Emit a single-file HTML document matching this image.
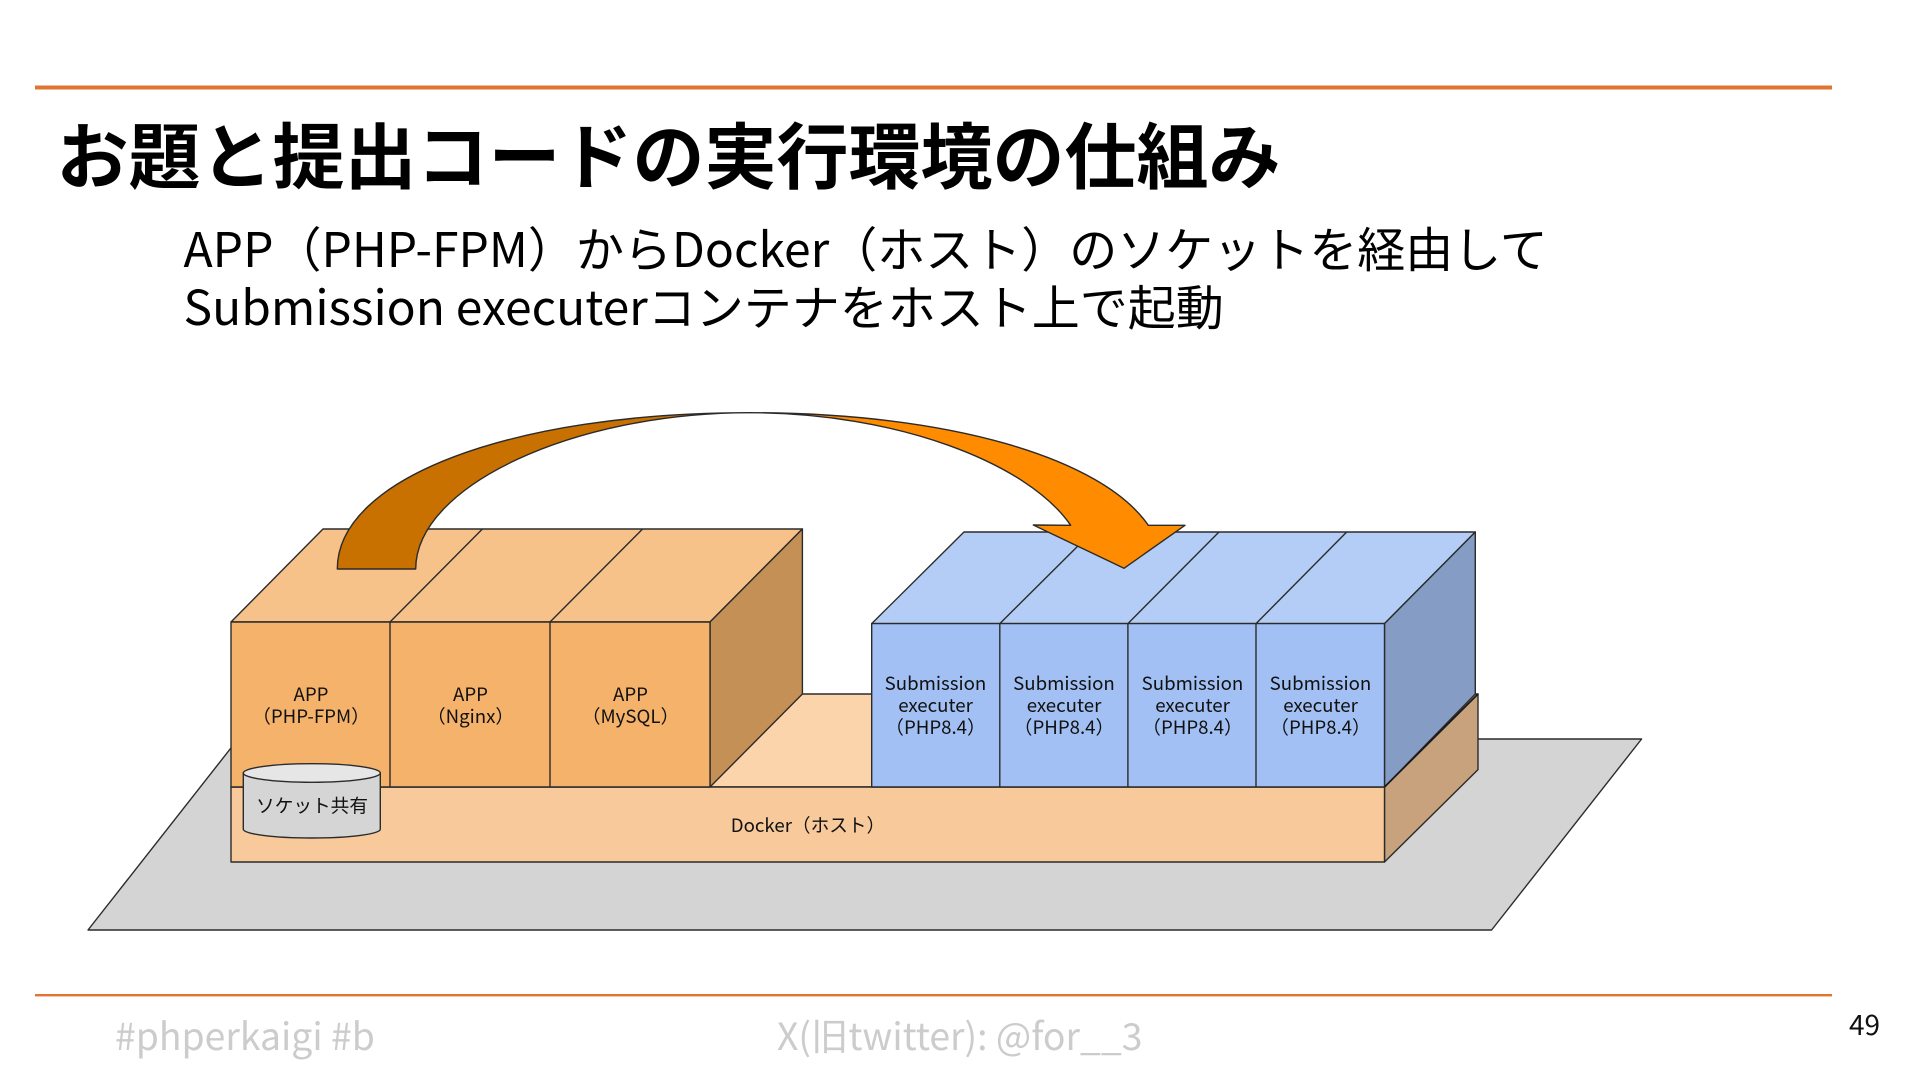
<!DOCTYPE html>
<html><head><meta charset="utf-8"><style>
html,body{margin:0;padding:0;background:#fff;width:1920px;height:1080px;overflow:hidden}
svg{display:block}
text{font-family:"Noto Sans CJK JP","Liberation Sans",sans-serif}
.l{font-size:18.67px;fill:#111;text-anchor:middle}
</style></head><body>
<svg width="1920" height="1080" viewBox="0 0 1920 1080" xmlns="http://www.w3.org/2000/svg">
<rect x="35" y="85.5" width="1797" height="4" fill="#df7530"/>
<rect x="35" y="994" width="1797" height="2.4" fill="#df7530"/>
<text x="56.5" y="183" font-size="72" font-weight="700" fill="#000">お題と提出コードの実行環境の仕組み</text>
<text x="183.5" y="267" font-size="48" fill="#000">APP（PHP-FPM）からDocker（ホスト）のソケットを経由して</text>
<text x="183.5" y="325" font-size="48" fill="#000">Submission executerコンテナをホスト上で起動</text>
<g stroke="#2b2b2b" stroke-width="1.4" stroke-linejoin="round">
<polygon points="88,930 238,739 1641.6,739 1491.6,930" fill="#d4d4d4"/>
<polygon points="231,787 325,694 1478,694 1384.5,787" fill="#fbd4ac"/>
<polygon points="1384.5,787 1478,694 1478,769.6 1384.5,862" fill="#c8a27c"/>
<rect x="231" y="787" width="1153.5" height="75" fill="#f8ca9b"/>
<polygon points="231,622 323,529 802.4,529 710,622" fill="#f7c28a"/>
<line x1="390" y1="622" x2="482.4" y2="529"/>
<line x1="550" y1="622" x2="642.6" y2="529"/>
<polygon points="710,622 802.4,529 802.4,694 710,787" fill="#c49056"/>
<rect x="231" y="622" width="479" height="165" fill="#f5b26b"/>
<line x1="390" y1="622" x2="390" y2="787"/>
<line x1="550" y1="622" x2="550" y2="787"/>
<polygon points="871.7,623.6 964,532 1475.3,532 1384.5,623.6" fill="#b4cdf6"/>
<line x1="999.8" y1="623.6" x2="1092" y2="532"/>
<line x1="1127.9" y1="623.6" x2="1219" y2="532"/>
<line x1="1256" y1="623.6" x2="1346.7" y2="532"/>
<polygon points="1384.5,623.6 1475.3,532 1475.3,694 1384.5,787" fill="#859cc4"/>
<rect x="871.7" y="623.6" width="512.8" height="163.4" fill="#a2c0f3"/>
<line x1="999.8" y1="623.6" x2="999.8" y2="787"/>
<line x1="1127.9" y1="623.6" x2="1127.9" y2="787"/>
<line x1="1256" y1="623.6" x2="1256" y2="787"/>
<line x1="1384.5" y1="787" x2="1478" y2="694" stroke="#1a1a1a" stroke-width="1.7"/>
<path d="M243.3,773 V829.3 C243.3,834 274,838 311.8,838 C349.6,838 380.3,834 380.3,829.3 V773 Z" fill="#d5d5d5"/>
<ellipse cx="311.8" cy="773" rx="68.5" ry="9.3" fill="#e6e6e6"/>
<path d="M337.3,569 C337.3,478.3 510.6,412.7 750,412.7 C572.8,412.7 415.7,486.2 415.7,569 Z" fill="#c87000"/>
<path d="M750,412.7 C948.7,412.7 1101.8,457.9 1148.3,525.3 L1185,525.3 L1124,568.3 L1033.3,525 L1070.7,525.3 C1027.1,462.1 895.3,412.7 750,412.7 Z" fill="#ff8c00"/>
</g>
<text class="l" x="311" y="701">APP</text>
<text class="l" x="311" y="723">（PHP-FPM）</text>
<text class="l" x="470.5" y="701">APP</text>
<text class="l" x="470.5" y="723">（Nginx）</text>
<text class="l" x="630.5" y="701">APP</text>
<text class="l" x="630.5" y="723">（MySQL）</text>
<text class="l" x="935.5" y="690">Submission</text>
<text class="l" x="935.5" y="712">executer</text>
<text class="l" x="935.5" y="734">（PHP8.4）</text>
<text class="l" x="1064" y="690">Submission</text>
<text class="l" x="1064" y="712">executer</text>
<text class="l" x="1064" y="734">（PHP8.4）</text>
<text class="l" x="1192.5" y="690">Submission</text>
<text class="l" x="1192.5" y="712">executer</text>
<text class="l" x="1192.5" y="734">（PHP8.4）</text>
<text class="l" x="1320.5" y="690">Submission</text>
<text class="l" x="1320.5" y="712">executer</text>
<text class="l" x="1320.5" y="734">（PHP8.4）</text>
<text class="l" x="808" y="832">Docker（ホスト）</text>
<text class="l" x="312" y="812.5">ソケット共有</text>
<text x="115" y="1050" font-size="37.33" fill="#cccccc">#phperkaigi #b</text>
<text x="777" y="1050" font-size="37.33" fill="#cccccc">X(旧twitter): @for__3</text>
<text x="1849" y="1035" font-size="28" fill="#111">49</text>
</svg>
</body></html>
